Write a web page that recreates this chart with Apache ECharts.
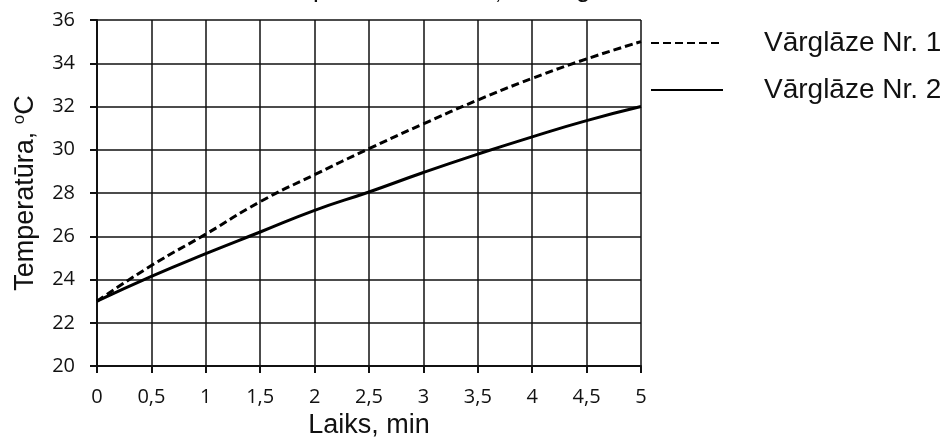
<!DOCTYPE html>
<html>
<head>
<meta charset="utf-8">
<script src="https://cdn.jsdelivr.net/npm/echarts@6/dist/echarts.min.js"></script>
<style>
html,body{margin:0;padding:0;background:#fff;}
#chart{width:949px;height:444px;}
</style>
</head>
<body>
<div id="chart"></div>
<script>
var titleText = 'Temperatūras izmaiņas vārglāzēs';
var xName = 'Laiks, min';
var yName = 'Temperatūra, {sup|o}C';
var seriesNames = ['Vārglāze Nr. 1', 'Vārglāze Nr. 2'];
var times = [0, 0.5, 1, 1.5, 2, 2.5, 3, 3.5, 4, 4.5, 5];
var temp1 = [23, 24.65, 26.1, 27.6, 28.85, 30.05, 31.2, 32.3, 33.3, 34.2, 35.0];
var temp2 = [23, 24.15, 25.2, 26.2, 27.2, 28.05, 28.95, 29.8, 30.6, 31.35, 32.0];

function pairs(xs, ys){ return xs.map(function(x,i){ return [x, ys[i]]; }); }

var chart = echarts.init(document.getElementById('chart'), null, {renderer:'canvas'});
var labelFont = '"Open Sans", sans-serif';
var nameFont = '"Liberation Sans", Arial, sans-serif';
chart.setOption({
  animation: false,
  backgroundColor: '#fff',
  title: {
    text: titleText,
    left: 264,
    top: -23,
    padding: 0,
    textStyle: {fontFamily: nameFont, fontSize: 26, fontWeight: 'normal', color: '#111'}
  },
  legend: {
    orient: 'vertical',
    left: 650,
    top: 29,
    itemWidth: 72,
    itemHeight: 14,
    itemGap: 19,
    padding: 0,
    data: seriesNames,
    itemStyle: {opacity: 0},
    textStyle: {fontFamily: nameFont, fontSize: 28, lineHeight: 28, color: '#111', padding: [0,0,0,36]}
  },
  grid: {left: 97, right: 308, top: 20, bottom: 74, containLabel: false},
  xAxis: {
    type: 'value', min: 0, max: 5, interval: 0.5,
    name: xName, nameLocation: 'middle', nameGap: 44,
    nameTextStyle: {fontFamily: nameFont, fontSize: 27, color: '#111'},
    axisLine: {show: true, onZero: false, lineStyle: {color: '#111', width: 2}},
    axisTick: {show: true, inside: false, length: 7, lineStyle: {color: '#111', width: 2}},
    axisLabel: {margin: 21, fontFamily: labelFont, fontSize: 20, color: '#111',
      formatter: function(v){ return String(v).replace('.', ','); }},
    splitLine: {show: true, lineStyle: {color: '#111', width: 1.5}}
  },
  yAxis: {
    type: 'value', min: 20, max: 36, interval: 2,
    name: yName, nameLocation: 'middle', nameGap: 57,
    nameTextStyle: {fontFamily: nameFont, fontSize: 27, color: '#111',
      rich: {sup: {fontFamily: nameFont, fontSize: 17, color: '#111', verticalAlign: 'top', padding: [0,0,12,0]}}},
    axisLine: {show: true, lineStyle: {color: '#111', width: 2}},
    axisTick: {show: true, inside: false, length: 7, lineStyle: {color: '#111', width: 2}},
    axisLabel: {margin: 22, fontFamily: labelFont, fontSize: 20, color: '#111'},
    splitLine: {show: true, lineStyle: {color: '#111', width: 1.5}}
  },
  series: [
    {
      name: seriesNames[0], type: 'line', smooth: 0.5, symbol: 'none', showSymbol: false,
      data: pairs(times, temp1),
      lineStyle: {color: '#000', width: 3, type: [8, 4]},
      itemStyle: {color: '#000'}
    },
    {
      name: seriesNames[1], type: 'line', smooth: 0.5, symbol: 'none', showSymbol: false,
      data: pairs(times, temp2),
      lineStyle: {color: '#000', width: 3, type: 'solid'},
      itemStyle: {color: '#000'}
    }
  ]
});
</script>
</body>
</html>
